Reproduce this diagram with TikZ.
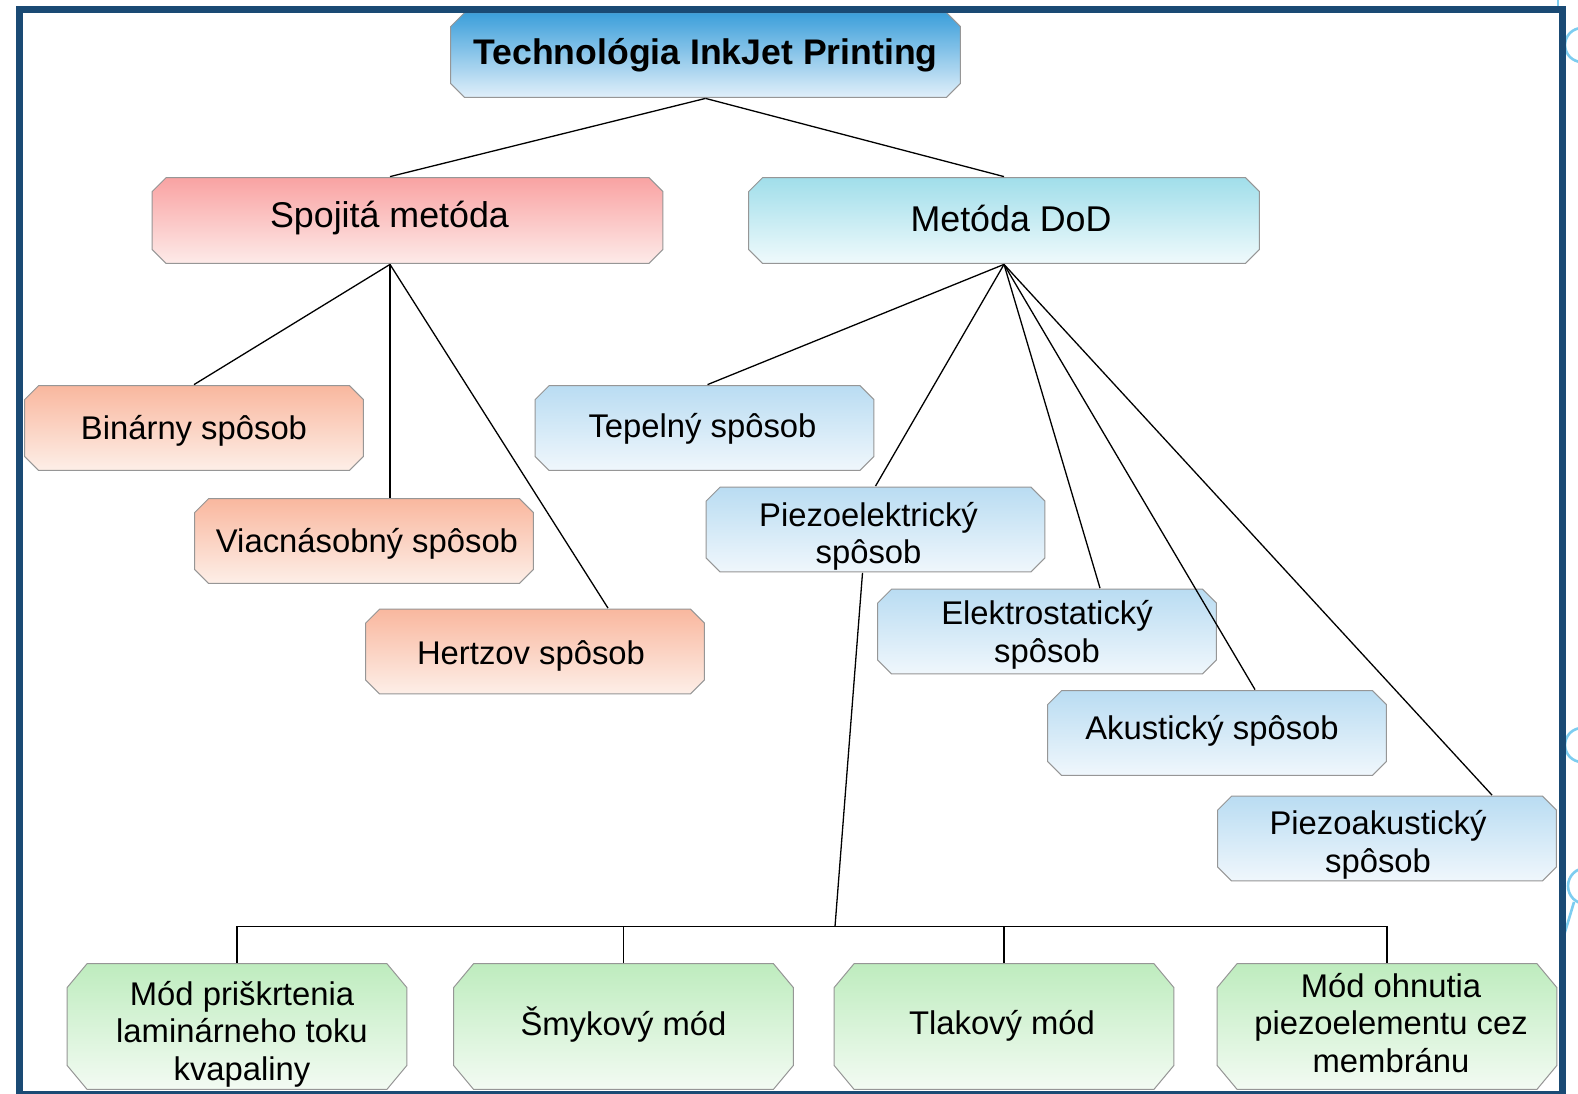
\documentclass[tikz,border=0pt]{standalone}
\usepackage{fontspec}
\setmainfont{Liberation Sans}
\usetikzlibrary{calc}
\definecolor{frameblue}{RGB}{26,74,116}
\definecolor{deco}{RGB}{125,205,240}
\definecolor{boxgray}{RGB}{150,150,150}
\definecolor{titletop}{RGB}{58,158,218}
\definecolor{titlebot}{RGB}{226,240,250}
\definecolor{redtop}{RGB}{249,162,162}
\definecolor{redbot}{RGB}{253,235,233}
\definecolor{cyantop}{RGB}{160,222,234}
\definecolor{cyanbot}{RGB}{240,250,252}
\definecolor{saltop}{RGB}{249,183,158}
\definecolor{salbot}{RGB}{253,239,232}
\definecolor{bluetop}{RGB}{185,220,242}
\definecolor{bluebot}{RGB}{240,247,252}
\definecolor{greentop}{RGB}{190,236,190}
\definecolor{greenbot}{RGB}{243,251,243}
% single-line text shifted by (dx, dy) without changing its box
\newcommand\txone[3]{\raisebox{#2}[\height][\depth]{\hspace*{#1}#3\hspace*{-#1}}}
% multi-line centred text shifted by (dx, dy)
\newcommand\txmany[3]{\raisebox{#2}[\height][\depth]{\hspace*{#1}\begin{tabular}{@{}c@{}}#3\end{tabular}\hspace*{-#1}}}
\begin{document}
\begin{tikzpicture}[x=0.5pt,y=-0.5pt,
  chbox/.style n args={4}{rectangle, inner sep=0pt,
    font=\fontsize{16.4}{18.6}\selectfont,
    path picture={
      \path[top color=#1, bottom color=#2, draw=boxgray, line width=0.5pt]
        ([shift={(#3+0.3pt,-0.3pt)}]path picture bounding box.north west)
        -- ([shift={(-#3-0.3pt,-0.3pt)}]path picture bounding box.north east)
        -- ([shift={(-0.3pt,-#4-0.3pt)}]path picture bounding box.north east)
        -- ([shift={(-0.3pt,#4+0.3pt)}]path picture bounding box.south east)
        -- ([shift={(-#3-0.3pt,0.3pt)}]path picture bounding box.south east)
        -- ([shift={(#3+0.3pt,0.3pt)}]path picture bounding box.south west)
        -- ([shift={(0.3pt,#4+0.3pt)}]path picture bounding box.south west)
        -- ([shift={(0.3pt,-#4-0.3pt)}]path picture bounding box.north west)
        -- cycle;
    }},
  lvl0/.style={chbox={titletop}{titlebot}{7pt}{7pt}, minimum width=255.5pt, minimum height=43pt,
    font=\fontsize{17.8}{20}\selectfont\bfseries},
  lvlred/.style={chbox={redtop}{redbot}{7pt}{7pt}, minimum width=256pt, minimum height=43.5pt,
    font=\fontsize{17.9}{20}\selectfont},
  lvlcyan/.style={chbox={cyantop}{cyanbot}{7pt}{7pt}, minimum width=256pt, minimum height=43.5pt,
    font=\fontsize{17.9}{20}\selectfont},
  salbox/.style={chbox={saltop}{salbot}{7pt}{7pt}, minimum width=170pt, minimum height=43pt},
  bluebox/.style={chbox={bluetop}{bluebot}{7pt}{7pt}, minimum width=170pt, minimum height=43pt},
  greenbox/.style={chbox={greentop}{greenbot}{10pt}{12pt}, minimum width=170.5pt, minimum height=63.5pt},
  conn/.style={draw=black, line width=0.65pt}
]
\useasboundingbox (0,0) rectangle (1578,1093);
\clip (0,0) rectangle (1578,1093);
\fill[white] (0,0) rectangle (1578,1093);

% decorations outside the frame
\draw[deco, line width=1.3pt] (1582,45) circle[radius=8.5pt];
\draw[deco, line width=1.3pt] (1582,745) circle[radius=8.5pt];
\draw[deco, line width=1.3pt] (1586,886) circle[radius=9pt];
\draw[deco, line width=1.3pt] (1574,902) -- (1562,942);
\draw[deco, line width=1.3pt] (1558,0) -- (1558,6);

% nodes
\node[lvl0] (title) at (705.5,55) {Technológia InkJet Printing};
\node[lvlred] (spoj) at (407.5,220.5) {\txone{-9pt}{1pt}{Spojitá metóda}};
\node[lvlcyan] (dod) at (1004,220.5) {\txone{3.5pt}{1pt}{Metóda DoD}};

\node[salbox] (bin) at (194,428) {\txone{0pt}{-1.5pt}{Binárny spôsob}};
\node[salbox] (viac) at (364,541) {\txone{1.5pt}{-1.5pt}{Viacnásobný spôsob}};
\node[salbox] (hertz) at (535,651.5) {\txone{-2pt}{-2pt}{Hertzov spôsob}};

\node[bluebox] (tep) at (704.5,428) {\txone{-1pt}{-0.5pt}{Tepelný spôsob}};
\node[bluebox] (piezo) at (875.5,529.5) {\txmany{-3.5pt}{-4pt}{Piezoelektrický\\spôsob}};
\node[bluebox] (elek) at (1047,631.5) {\txmany{0pt}{-2.3pt}{Elektrostatický\\spôsob}};
\node[bluebox] (akus) at (1217,733) {\txone{-2.5pt}{1pt}{Akustický spôsob}};
\node[bluebox] (pak) at (1387,838.5) {\txmany{-4.5pt}{-3.8pt}{Piezoakustický\\spôsob}};

\node[greenbox] (g1) at (237,1026.5) {\txmany{2.5pt}{-4.5pt}{Mód priškrtenia\\laminárneho toku\\kvapaliny}};
\node[greenbox] (g2) at (623.5,1026.5) {\txone{0pt}{1pt}{Šmykový mód}};
\node[greenbox] (g3) at (1004,1026.5) {\txone{-1pt}{0.5pt}{Tlakový mód}};
\node[greenbox] (g4) at (1387,1026.5) {\txmany{2pt}{-0.5pt}{Mód ohnutia\\piezoelementu cez\\membránu}};

% connectors
\coordinate (spt) at ($(spoj.north)+(-17.5,0)$);
\coordinate (spb) at ($(spoj.south)+(-17.5,0)$);
\draw[conn] (title.south) -- (spt);
\draw[conn] (title.south) -- (dod.north);

\draw[conn] (spb) -- (bin.north);
\draw[conn] (spb) -- ($(viac.north)+(26,0)$);
\draw[conn] (spb) -- ($(hertz.north)+(73,0)$);

\draw[conn] (dod.south) -- ($(tep.north)+(3,0)$);
\draw[conn] (dod.south) -- (piezo.north);
\draw[conn] (dod.south) -- ($(elek.north)+(53,0)$);
\draw[conn] (dod.south) -- ($(akus.north)+(38,0)$);
\draw[conn] (dod.south) -- ($(pak.north)+(105,0)$);

\coordinate (bus) at (835,926.5);
\draw[conn] ($(piezo.south)+(-13,0)$) -- (bus);
\draw[conn] (g1.north) |- (bus) -| (g4.north);
\draw[conn] (g2.north) -- (g2.north |- bus);
\draw[conn] (g3.north) -- (g3.north |- bus);

% frame
\draw[frameblue, line width=3.5pt] (19.5,9) rectangle (1562,1094.5);
\end{tikzpicture}
\end{document}
